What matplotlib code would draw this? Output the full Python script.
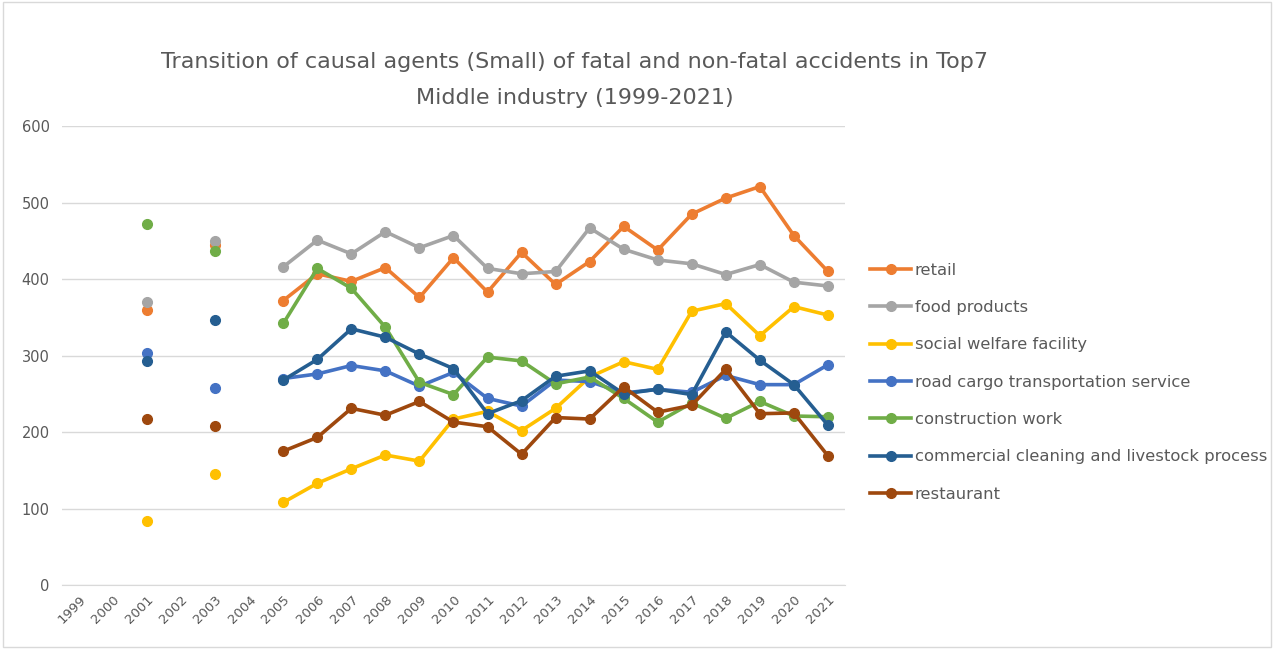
import numpy as np
import matplotlib
matplotlib.use("Agg")
import matplotlib.pyplot as plt
from matplotlib.patches import Rectangle

nan = np.nan
years = [str(y) for y in range(1999, 2022)]

retail = [nan, nan, 360, nan, 444, nan, 372, 407, 397, 415, 376, 428, 383, 435, 393, 423, 469, 438, 485, 506, 521, 457, 410]
food_products = [nan, nan, 370, nan, 450, nan, 416, 451, 433, 462, 441, 457, 414, 407, 410, 467, 439, 425, 420, 406, 419, 396, 391]
social_welfare = [nan, nan, 84, nan, 145, nan, 108, 133, 152, 170, 162, 217, 227, 202, 231, 272, 292, 282, 358, 368, 326, 364, 353]
road_cargo = [nan, nan, 304, nan, 257, nan, 270, 276, 287, 280, 260, 278, 244, 234, 268, 266, 251, 256, 252, 274, 262, 262, 288]
construction = [nan, nan, 472, nan, 437, nan, 342, 414, 388, 337, 265, 249, 298, 293, 263, 272, 244, 213, 238, 218, 240, 221, 220]
commercial_cleaning = [nan, nan, 293, nan, 347, nan, 268, 295, 335, 324, 302, 283, 224, 241, 273, 280, 250, 256, 249, 331, 294, 262, 209]
restaurant = [nan, nan, 217, nan, 208, nan, 175, 193, 231, 222, 240, 213, 207, 171, 219, 217, 259, 226, 235, 282, 224, 225, 169]

series = [
    ("retail", retail, "#ED7D31"),
    ("food products", food_products, "#A5A5A5"),
    ("social welfare facility", social_welfare, "#FFC000"),
    ("road cargo transportation service", road_cargo, "#4472C4"),
    ("construction work", construction, "#70AD47"),
    ("commercial cleaning and livestock process", commercial_cleaning, "#255E91"),
    ("restaurant", restaurant, "#9E480E"),
]

fig = plt.figure(figsize=(12.74, 6.49), dpi=100)
ax = fig.add_axes([0.0487, 0.0986, 0.6145, 0.707])

x = np.arange(len(years))
for name, vals, col in series:
    ax.plot(x, vals, color=col, lw=2.6, marker="o", ms=7, label=name)

ax.set_xlim(-0.5, len(years) - 0.5)
ax.set_ylim(0, 600)
ax.set_yticks(range(0, 601, 100))
ax.set_xticks(x)
ax.set_xticklabels(years, rotation=45, ha="right", rotation_mode="anchor")
ax.tick_params(axis="x", length=0, labelsize=9.5, colors="#595959", pad=6)
ax.tick_params(axis="y", length=0, labelsize=10.5, colors="#595959", pad=9)
ax.grid(axis="y", color="#D9D9D9", lw=1)
ax.set_axisbelow(True)
for s in ["top", "right", "left"]:
    ax.spines[s].set_visible(False)
ax.spines["bottom"].set_color("#D9D9D9")

fig.text(0.451, 0.877, "Transition of causal agents (Small) of fatal and non-fatal accidents in Top7\nMiddle industry (1999-2021)",
         ha="center", va="center", fontsize=16, color="#595959", linespacing=2.0)

fig.legend(loc="upper left", bbox_to_anchor=(0.678, 0.605), frameon=False,
           fontsize=11.8, labelcolor="#595959", handlelength=2.5, handletextpad=0.2,
           labelspacing=1.36, borderaxespad=0)

fig.patches.append(Rectangle((0.002, 0.003), 0.996, 0.994, transform=fig.transFigure,
                             fill=False, ec="#D9D9D9", lw=1))

fig.savefig("out.png", dpi=100)
